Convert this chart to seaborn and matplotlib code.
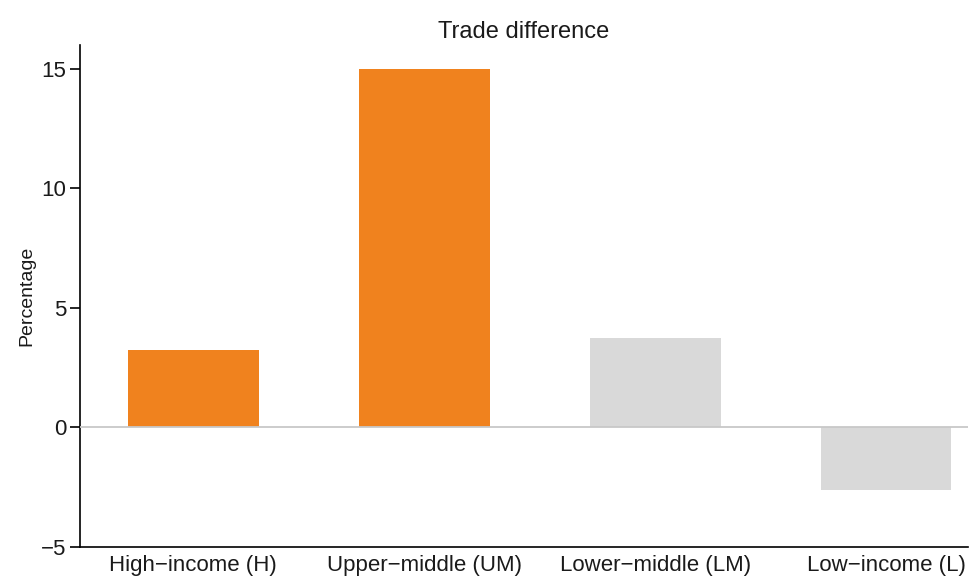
import pandas as pd
import matplotlib.pyplot as plt
import seaborn as sns

# data
groups = ['High\u2212income (H)', 'Upper\u2212middle (UM)',
          'Lower\u2212middle (LM)', 'Low\u2212income (L)']
trade_diff = [3.25, 15.0, 3.75, -2.6]
bar_colors = ['#f0821e', '#f0821e', '#d9d9d9', '#d9d9d9']

df = pd.DataFrame({'group': groups, 'value': trade_diff})

sns.set_style('white')
plt.rcParams['font.family'] = ['Liberation Sans', 'DejaVu Sans']

fig = plt.figure(figsize=(9.7, 5.79), dpi=100)
ax = fig.add_axes([80 / 970, 1 - 547 / 579, 888 / 970, 502 / 579])

sns.barplot(data=df, x='group', y='value', hue='group', palette=bar_colors,
            width=0.567, legend=False, ax=ax, saturation=1,
            edgecolor='none', linewidth=0)

# zero line sits on top of the bars
ax.axhline(0, color='#c8c8c8', lw=1.3, zorder=3)
ax.set_xlim(-0.49, 3.355)
ax.set_ylim(-5, 16)
ax.set_yticks([-5, 0, 5, 10, 15])
ax.set_yticklabels(['\u22125', '0', '5', '10', '15'])

ax.set_title('Trade difference', fontsize=17, color='#1a1a1a', pad=5)
ax.set_ylabel('Percentage', fontsize=14, color='#1a1a1a', labelpad=4)
ax.set_xlabel('')

for s in ['top', 'right']:
    ax.spines[s].set_visible(False)
for s in ['left', 'bottom']:
    ax.spines[s].set_color('black')
    ax.spines[s].set_linewidth(1.2)

ax.tick_params(axis='y', which='major', left=True, length=7, width=1.2,
               color='black', labelsize=16, labelcolor='#1a1a1a', pad=3)
ax.tick_params(axis='x', bottom=False, labelsize=16, labelcolor='#1a1a1a', pad=2)

fig.savefig('out.png', dpi=100)
